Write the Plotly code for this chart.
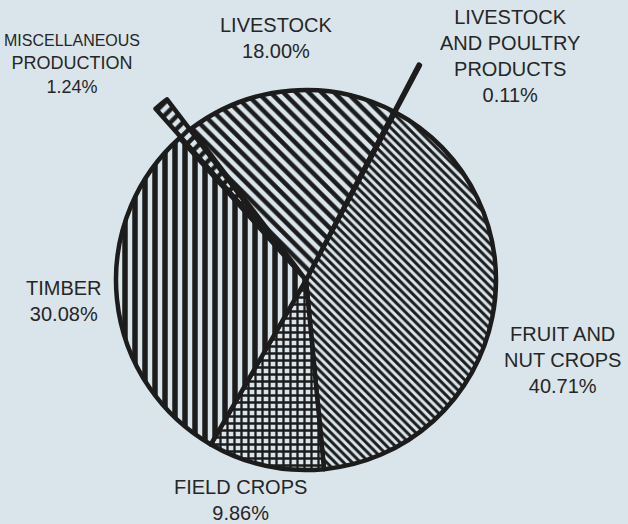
import plotly.graph_objects as go

# ---- data ----
categories = ["FRUIT AND NUT CROPS", "FIELD CROPS", "TIMBER", "MISCELLANEOUS PRODUCTION",
              "LIVESTOCK", "LIVESTOCK AND POULTRY PRODUCTS"]
label_lines = ["FRUIT AND<br>NUT CROPS", "FIELD CROPS", "TIMBER",
               "<span style='font-size:16px'>MISCELLANEOUS</span><br>PRODUCTION",
               "LIVESTOCK", "LIVESTOCK<br>AND POULTRY<br>PRODUCTS"]
shares = [40.71, 9.86, 30.08, 1.24, 18.00, 0.11]
pulls = [0, 0, 0, 0.2, 0, 0.28]

# ---- styles ----
BG = "#d9e5eb"
INK = "#1c1c1c"
TXT = "#262626"
shapes = ["\\", "+", "|", "/", "\\", ""]
sizes = [6, 7, 10, 9, 9, 6]
solid = [0.5, 0.55, 0.55, 0.5, 0.5, 0.5]
slice_colors = [BG, BG, BG, BG, BG, INK]

W, H = 628, 524
cx, cy, r = 306, 280, 190
half = r * (1 + max(pulls))

fig = go.Figure(go.Pie(
    labels=categories,
    values=shares,
    sort=False,
    direction="clockwise",
    rotation=28,
    pull=pulls,
    textinfo="none",
    hoverinfo="label+percent",
    marker=dict(
        colors=slice_colors,
        line=dict(color=INK, width=4.5),
        pattern=dict(shape=shapes, size=sizes, solidity=solid,
                     fgcolor=INK, bgcolor=slice_colors, fillmode="replace"),
    ),
    domain=dict(x=[(cx - half) / W, (cx + half) / W],
                y=[(H - cy - half) / H, (H - cy + half) / H]),
    showlegend=False,
))

# label anchor positions (pixel centres of each text block)
label_px = [(562, 360), (240, 500), (64, 301), (72, 65), (276, 38), (510, 56)]
label_size = [20, 20, 20, 18, 20, 20]

for txt, v, (px, py), fs in zip(label_lines, shares, label_px, label_size):
    fig.add_annotation(
        x=px / W, y=1 - py / H, xref="paper", yref="paper",
        text=f"{txt}<br>{v:.2f}%", showarrow=False,
        xanchor="center", yanchor="middle", align="center",
        font=dict(family="Liberation Sans, Arial, sans-serif", size=fs, color=TXT),
    )

fig.update_layout(
    width=W, height=H,
    margin=dict(l=0, r=0, t=0, b=0),
    paper_bgcolor=BG, plot_bgcolor=BG,
)

fig.write_html("out.html", config={"displayModeBar": False},
               post_script="document.body.style.margin='0';document.body.style.overflow='hidden';")
